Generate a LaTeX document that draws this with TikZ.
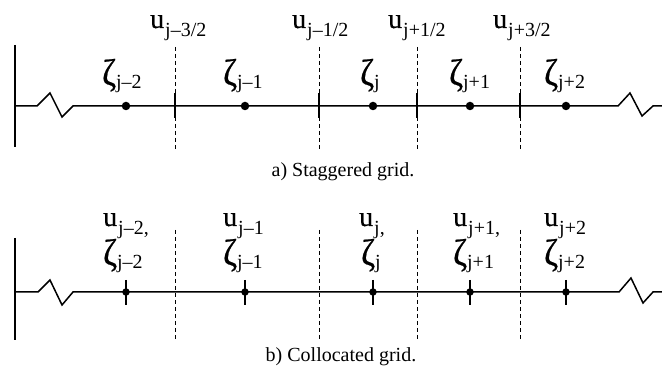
\documentclass[tikz,border=0pt]{standalone}
\usepackage{fontspec}
\setmainfont{Liberation Serif}
\newfontfamily\heavyfont[FakeBold=0.6]{Liberation Serif}
\newcommand\ulab[1]{{\heavyfont\fontsize{28}{28}\selectfont u}\kern1pt\raisebox{-9pt}{\fontsize{20}{20}\selectfont #1}}
\newcommand\zlab[1]{{\heavyfont\fontsize{27}{27}\selectfont\scalebox{1.25}[1.38]{ζ}}\raisebox{-4pt}{\fontsize{20}{20}\selectfont #1}}
\tikzset{
  axis/.style={line width=1.5pt},
  face/.style={line width=0.9pt, dash pattern=on 4pt off 3pt},
  facetick/.style={line width=2.6pt},
  dotnode/.style={circle, fill=black, inner sep=0pt, minimum size=8.5pt},
  sdot/.style={circle, fill=black, inner sep=0pt, minimum size=7.5pt},
  lab/.style={anchor=base west, inner sep=0pt},
  captext/.style={inner sep=0pt, font=\fontsize{20}{20}\selectfont}
}
\begin{document}
\begin{tikzpicture}[x=1pt,y=-1pt]
\useasboundingbox (0,0) rectangle (662,374);
% ---------- a) staggered ----------
\coordinate (aL) at (15,106);
\coordinate (aR) at (662,106);
\draw[line width=1.3pt] (15,45) -- (15,147);
\draw[axis] (aL) -- (37,106) -- (50,93) -- (62,117) -- (73,106) -- (618,106) -- (630,93) -- (642,116) -- (653,106) -- (aR);
\foreach \x/\n in {175/a1,319/a2,417/a3,520/a4}{
  \coordinate (\n t) at (\x,47);
  \coordinate (\n b) at (\x,150);
  \draw[face] (\n t) -- (\n b);
  \draw[facetick] (\x,93) -- (\x,118);
}
\foreach \x/\n in {126/z1,245/z2,373/z3,470/z4,566/z5}{
  \node[dotnode] (\n) at (\x,106) {};
}
\node[lab] (ua1) at (150,28) {\ulab{j–3/2}};
\node[lab] (ua2) at (292,28) {\ulab{j–1/2}};
\node[lab] (ua3) at (388,28) {\ulab{j+1/2}};
\node[lab] (ua4) at (493,28) {\ulab{j+3/2}};
\node[lab] (za1) at (102,85) {\zlab{j–2}};
\node[lab] (za2) at (223,85) {\zlab{j–1}};
\node[lab] (za3) at (360,85) {\zlab{j}};
\node[lab] (za4) at (449,85) {\zlab{j+1}};
\node[lab] (za5) at (544,85) {\zlab{j+2}};
\node[captext] (capa) at (343,172) {a) Staggered grid.};
% ---------- b) collocated ----------
\coordinate (bL) at (15,292);
\coordinate (bR) at (662,292);
\draw[line width=1.3pt] (15,238) -- (15,340);
\draw[axis] (bL) -- (38,292) -- (50,280) -- (62,305) -- (73,292) -- (619,292) -- (631,278) -- (643,303) -- (653,292) -- (bR);
\foreach \x/\n in {175/b1,319/b2,417/b3,520/b4}{
  \coordinate (\n t) at (\x,230);
  \coordinate (\n b) at (\x,340);
  \draw[face] (\n t) -- (\n b);
}
\foreach \x/\n in {126/y1,245/y2,373/y3,470/y4,566/y5}{
  \node[sdot] (\n) at (\x,292) {};
  \draw[facetick] (\x,280) -- (\x,305);
}
\node[lab] (ub1) at (103,226) {\ulab{j–2,}};
\node[lab] (ub2) at (223,226) {\ulab{j–1}};
\node[lab] (ub3) at (359,226) {\ulab{j,}};
\node[lab] (ub4) at (453,226) {\ulab{j+1,}};
\node[lab] (ub5) at (544,226) {\ulab{j+2}};
\node[lab] (zb1) at (103,265) {\zlab{j–2}};
\node[lab] (zb2) at (223,265) {\zlab{j–1}};
\node[lab] (zb3) at (361,265) {\zlab{j}};
\node[lab] (zb4) at (453,265) {\zlab{j+1}};
\node[lab] (zb5) at (544,265) {\zlab{j+2}};
\node[captext] (capb) at (341,357) {b) Collocated grid.};
\end{tikzpicture}
\end{document}
